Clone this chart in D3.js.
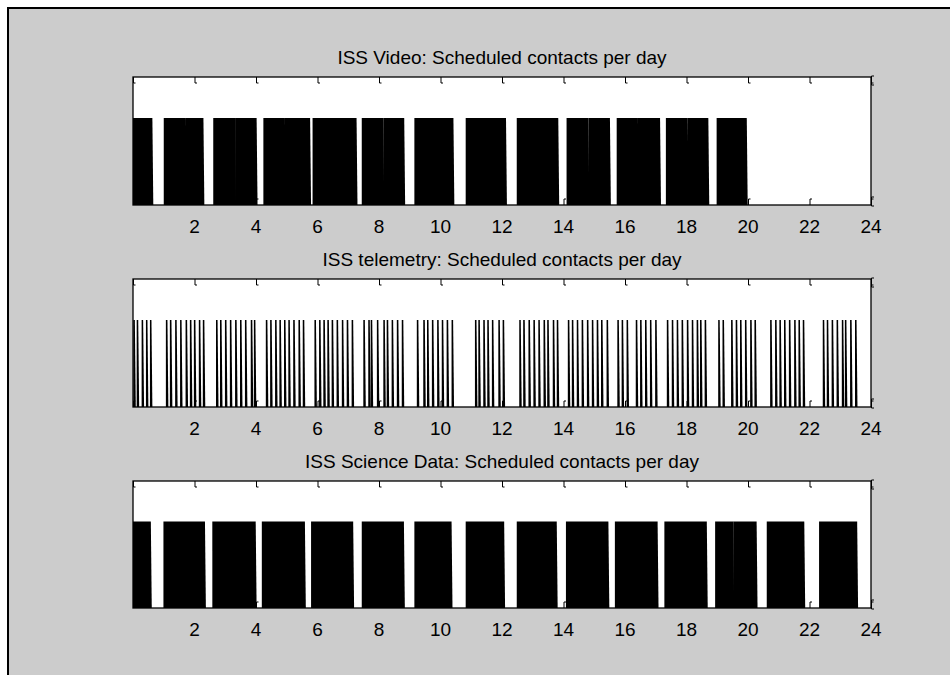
<!DOCTYPE html>
<html>
<head>
<meta charset="utf-8">
<script src="https://cdn.jsdelivr.net/npm/d3@7"></script>
<style>
  body { margin: 0; background: #ffffff; }
  text { font-family: "Liberation Sans", Arial, sans-serif; fill: #000; }
</style>
</head>
<body>
<div id="figure"></div>
<script>
// Hour-of-day tick labels shared by every panel
const hourTicks = [0, 2, 4, 6, 8, 10, 12, 14, 16, 18, 20, 22, 24];

// ISS Video contacts, [start, end] in hours
const videoContacts = [
  [0.00, 0.63], [1.00, 1.72], [1.72, 2.29], [2.61, 3.32], [3.32, 4.02],
  [4.24, 4.94], [4.94, 5.76], [5.84, 6.57], [6.57, 7.27], [7.44, 8.14],
  [8.14, 8.82], [9.15, 10.42], [10.82, 12.13], [12.48, 13.83], [14.10, 14.81],
  [14.81, 15.51], [15.73, 16.42], [16.42, 17.14], [17.33, 18.04], [18.04, 18.71],
  [18.98, 19.96]
];

// ISS telemetry contacts, start time in hours (each one short)
const telemetryStarts = [
  0.01, 0.12, 0.28, 0.42, 0.55,
  1.07, 1.20, 1.37, 1.53, 1.71, 1.85, 1.98, 2.14, 2.27,
  2.70, 2.83, 2.99, 3.15, 3.32, 3.48, 3.64, 3.83, 3.93,
  4.32, 4.46, 4.62, 4.76, 4.91, 5.05, 5.21, 5.38, 5.52,
  5.90, 6.05, 6.19, 6.32, 6.46, 6.62, 6.79, 6.95, 7.11,
  7.49, 7.65, 7.73, 7.93, 8.14, 8.25, 8.41, 8.58, 8.74,
  9.23, 9.44, 9.56, 9.72, 9.89, 10.04, 10.20, 10.36,
  11.12, 11.23, 11.39, 11.52, 11.67, 11.88, 12.02,
  12.56, 12.69, 12.86, 13.02, 13.18, 13.35, 13.47, 13.65, 13.78,
  14.14, 14.27, 14.43, 14.59, 14.76, 14.92, 15.08, 15.22, 15.40,
  15.75, 15.89, 16.05, 16.35, 16.49, 16.65, 16.81, 16.98,
  17.36, 17.52, 17.68, 17.84, 18.01, 18.17, 18.33, 18.44, 18.59,
  19.03, 19.17, 19.45, 19.60, 19.74, 19.90, 20.07, 20.21,
  20.72, 20.88, 21.02, 21.17, 21.33, 21.50, 21.64, 21.78,
  22.43, 22.56, 22.72, 22.88, 23.05, 23.15, 23.32, 23.48
];
const telemetryLength = 0.05;

// ISS Science Data contacts, [start, end] in hours
const scienceContacts = [
  [0.00, 0.58], [0.99, 2.34], [2.58, 3.99], [4.19, 5.59], [5.79, 7.16],
  [7.44, 8.81], [9.15, 10.36], [10.82, 12.07], [12.48, 13.78], [14.08, 15.46],
  [15.67, 17.06], [17.28, 18.66], [18.93, 19.52], [19.52, 20.28], [20.61, 21.83],
  [22.31, 23.55]
];

const panelTitles = [
  'ISS Video: Scheduled contacts per day',
  'ISS telemetry: Scheduled contacts per day',
  'ISS Science Data: Scheduled contacts per day'
];

class ContactPanel {
  constructor(_config, contacts) {
    this.config = {
      svg: _config.svg,
      title: _config.title,
      left: 133,
      right: 871,
      top: _config.top,
      bottom: _config.bottom,
      yMax: 1.47,
      slant: _config.slant,
      fontSize: 19
    };
    this.contacts = contacts;
    this.initVis();
  }

  initVis() {
    let vis = this;
    const c = vis.config;

    vis.x = d3.scaleLinear().domain([0, 24]).range([c.left, c.right]);
    vis.y = d3.scaleLinear().domain([0, c.yMax]).range([c.bottom, c.top]);

    vis.g = c.svg.append('g').attr('class', 'panel');

    // white plot area
    vis.g.append('rect')
      .attr('x', c.left)
      .attr('y', c.top)
      .attr('width', c.right - c.left)
      .attr('height', c.bottom - c.top)
      .attr('fill', '#ffffff');

    vis.renderVis();
  }

  renderVis() {
    let vis = this;
    const c = vis.config;

    const line = d3.line()
      .x(d => vis.x(d[0]))
      .y(d => vis.y(d[1]));

    // each contact is a filled block (slightly slanted trailing edge)
    vis.g.selectAll('.contact')
      .data(vis.contacts)
      .join('path')
      .attr('class', 'contact')
      .attr('fill', '#000')
      .attr('d', d => line([
        [d[0], 0], [d[0], 1], [d[1], 1], [Math.min(d[1] + c.slant, 24), 0]
      ]) + 'Z');

    // axis box
    vis.g.append('rect')
      .attr('x', c.left)
      .attr('y', c.top)
      .attr('width', c.right - c.left)
      .attr('height', c.bottom - c.top)
      .attr('fill', 'none')
      .attr('stroke', '#000')
      .attr('stroke-width', 1.3);

    // inward x ticks on top and bottom edges
    const tickG = vis.g.append('g').attr('class', 'ticks')
      .attr('fill', 'none')
      .attr('stroke', '#000')
      .attr('stroke-width', 1);

    tickG.selectAll('.tick-top')
      .data(hourTicks)
      .join('path')
      .attr('class', 'tick-top')
      .attr('d', d => `M${vis.x(d) + 0.5},${c.top}V${c.top + 6}H${vis.x(d) + 2.5}`);

    tickG.selectAll('.tick-bottom')
      .data(hourTicks)
      .join('path')
      .attr('class', 'tick-bottom')
      .attr('d', d => `M${vis.x(d) + 0.5},${c.bottom}V${c.bottom - 6}H${vis.x(d) + 2.5}`);

    // small y ticks on the right edge
    const yEnds = [
      { a: vis.y(0) - 8, b: vis.y(0) + 1 },
      { a: vis.y(c.yMax) - 1, b: vis.y(c.yMax) + 8 }
    ];
    tickG.selectAll('.tick-right')
      .data(yEnds)
      .join('path')
      .attr('class', 'tick-right')
      .attr('d', d => `M${c.right + 3},${d.a}H${c.right + 0.5}V${d.b}H${c.right + 3}`);

    // tick labels
    vis.g.selectAll('.tick-label')
      .data(hourTicks.filter(d => d > 0))
      .join('text')
      .attr('class', 'tick-label')
      .attr('x', d => vis.x(d))
      .attr('y', c.bottom + 28)
      .attr('text-anchor', 'middle')
      .attr('font-size', c.fontSize)
      .text(d => d);

    // title
    vis.g.append('text')
      .attr('x', (c.left + c.right) / 2)
      .attr('y', c.top - 13)
      .attr('text-anchor', 'middle')
      .attr('font-size', c.fontSize)
      .text(c.title);
  }
}

const width = 950, height = 675;

const svg = d3.select('#figure')
  .append('svg')
  .attr('width', width)
  .attr('height', height);

// figure window: grey with a dark frame on the left and top
svg.append('rect')
  .attr('x', 7).attr('y', 7)
  .attr('width', width - 7).attr('height', height - 7)
  .attr('fill', '#cccccc');

svg.append('path')
  .attr('d', `M8,${height}V8H${width}`)
  .attr('fill', 'none')
  .attr('stroke', '#000')
  .attr('stroke-width', 2);

const telemetryContacts = telemetryStarts.map(s => [s, s + telemetryLength]);

new ContactPanel({ svg: svg, title: panelTitles[0], top: 77, bottom: 205, slant: 0.03 }, videoContacts);
new ContactPanel({ svg: svg, title: panelTitles[1], top: 279, bottom: 407, slant: 0.03 }, telemetryContacts);
new ContactPanel({ svg: svg, title: panelTitles[2], top: 481, bottom: 608, slant: 0.03 }, scienceContacts);
</script>
</body>
</html>
